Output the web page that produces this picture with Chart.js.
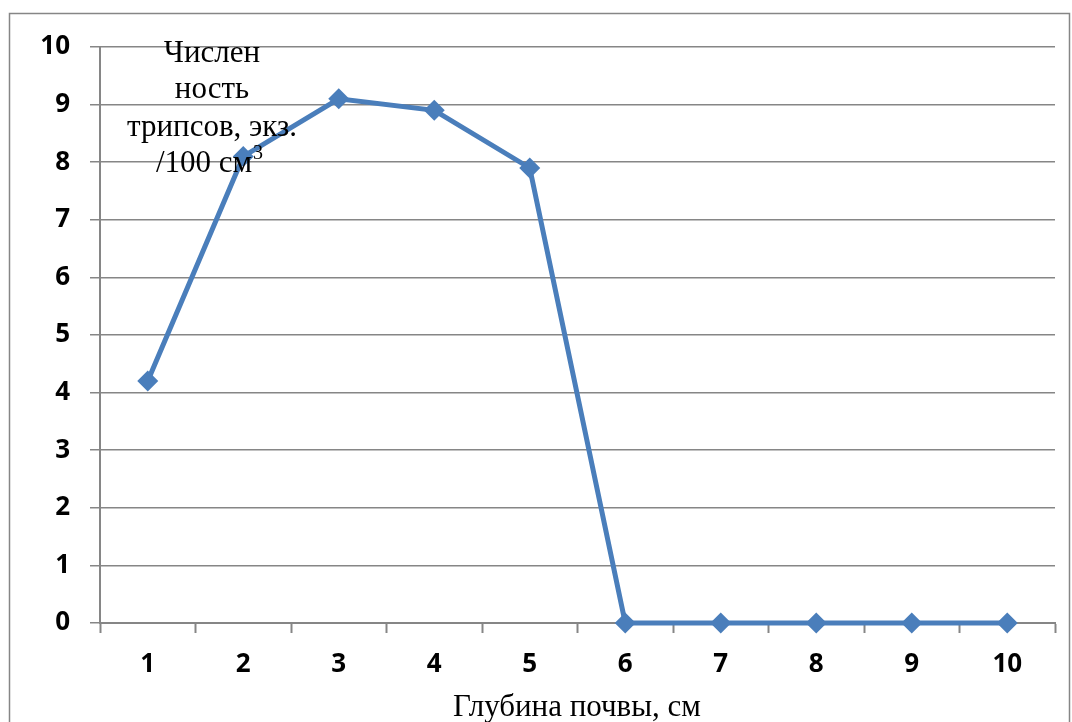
<!DOCTYPE html>
<html>
<head>
<meta charset="utf-8">
<script src="https://cdn.jsdelivr.net/npm/chart.js@4/dist/chart.umd.min.js"></script>
<style>
  html, body { margin: 0; padding: 0; background: #fff; }
  #wrap { width: 1072px; height: 722px; position: relative; }
</style>
</head>
<body>
<div id="wrap"><canvas id="chart"></canvas></div>
<script>
// data
const depths = ["1", "2", "3", "4", "5", "6", "7", "8", "9", "10"];
const thrips = [4.2, 8.1, 9.1, 8.9, 7.9, 0, 0, 0, 0, 0];
const yTitleLines = ["Числен", "ность", "трипсов, экз.", "/100 см"];
const xTitle = "Глубина почвы, см";

const GRID = "#868686";
const LINE = "#4a7ebb";
const SERIF = "'Liberation Serif', 'Times New Roman', serif";

/* === frame + titles */
const titlesPlugin = {
  id: "titles",
  beforeDraw(chart) {
    const ctx = chart.ctx;
    ctx.save();
    ctx.strokeStyle = GRID;
    ctx.lineWidth = 1.5;
    ctx.beginPath();
    ctx.moveTo(9.5, 730);
    ctx.lineTo(9.5, 13.5);
    ctx.lineTo(1069.5, 13.5);
    ctx.lineTo(1069.5, 730);
    ctx.stroke();
    ctx.restore();
  },
  afterDraw(chart) {
    const ctx = chart.ctx;
    ctx.save();
    ctx.fillStyle = "#000";
    ctx.font = "31px " + SERIF;
    ctx.textAlign = "center";
    ctx.textBaseline = "alphabetic";
    const base = [62, 98, 136, 172];
    yTitleLines.forEach((t, i) => {
      const cx = i === 3 ? 204 : 212;
      ctx.fillText(t, cx, base[i]);
      if (i === 3) {
        const w = ctx.measureText(t).width;
        ctx.font = "20px " + SERIF;
        ctx.textAlign = "left";
        ctx.fillText("3", cx + w / 2 + 1, base[i] - 13);
        ctx.font = "31px " + SERIF;
        ctx.textAlign = "center";
      }
    });
    ctx.fillText(xTitle, 577, 716);
    ctx.restore();
  }
};

const ctx = document.getElementById("chart").getContext("2d");
new Chart(ctx, {
  type: "line",
  data: {
    labels: depths,
    datasets: [{
      data: thrips,
      borderColor: LINE,
      backgroundColor: LINE,
      borderWidth: 5,
      pointStyle: "rectRot",
      pointRadius: 10.5,
      pointHoverRadius: 10.5,
      pointBorderWidth: 0,
      tension: 0,
      clip: false
    }]
  },
  options: {
    responsive: true,
    maintainAspectRatio: false,
    animation: false,
    layout: { padding: { left: 0, top: 47, right: 17, bottom: 0 } },
    plugins: { legend: { display: false }, tooltip: { enabled: false } },
    scales: {
      x: {
        offset: true,
        afterFit: s => { s.height = 99; },
        grid: {
          offset: true,
          drawOnChartArea: false,
          drawTicks: true,
          tickLength: 10,
          tickWidth: 2,
          color: GRID
        },
        border: { color: GRID, width: 2 },
        ticks: {
          color: "#000",
          padding: 16,
          font: { family: "'Open Sans', sans-serif", size: 26, weight: "bold" }
        }
      },
      y: {
        min: 0,
        max: 10,
        afterFit: s => { s.width = 100; },
        grid: {
          color: GRID,
          lineWidth: 1.5,
          tickLength: 10,
          drawTicks: true
        },
        border: { color: GRID, width: 2 },
        ticks: {
          stepSize: 1,
          color: "#000",
          padding: 20,
          font: { family: "'Open Sans', sans-serif", size: 26, weight: "bold" }
        }
      }
    }
  },
  plugins: [titlesPlugin]
});
</script>
</body>
</html>
